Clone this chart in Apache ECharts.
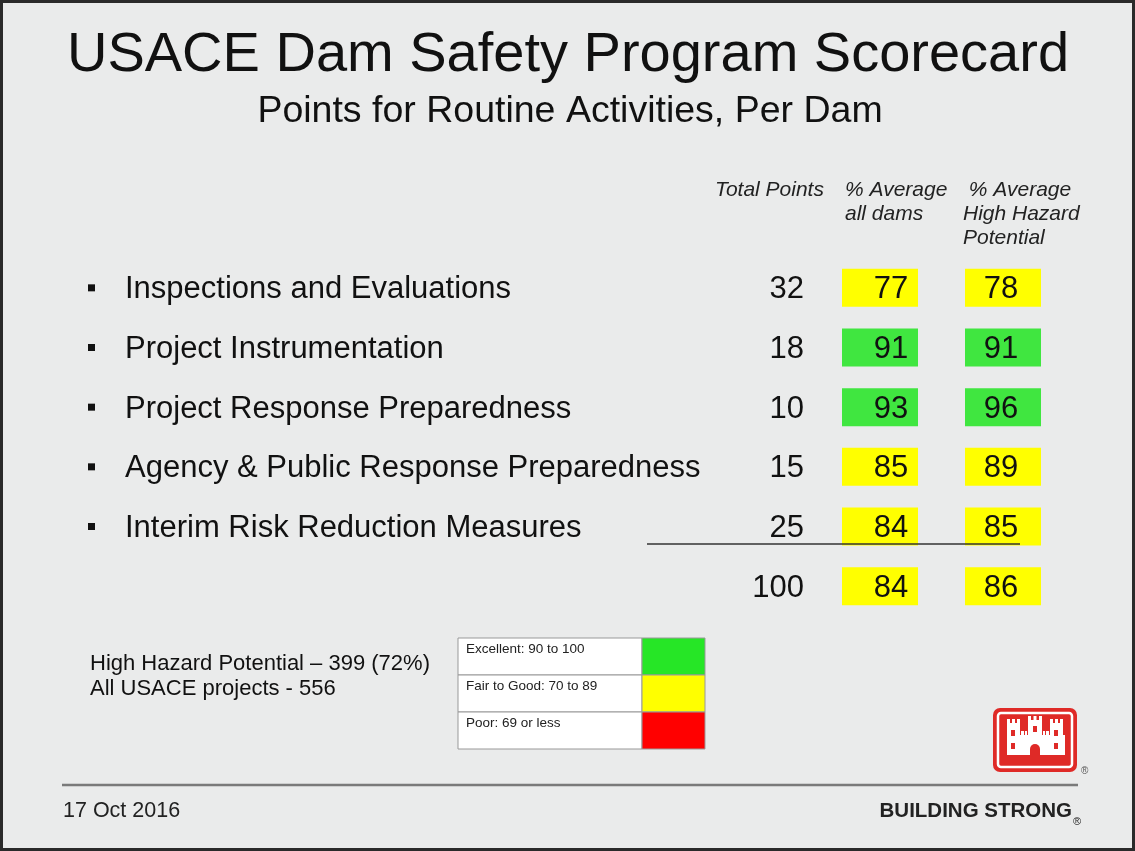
<!DOCTYPE html>
<html>
<head>
<meta charset="utf-8">
<title>USACE Dam Safety Program Scorecard</title>
<script src="https://cdn.jsdelivr.net/npm/echarts@6/dist/echarts.min.js"></script>
<style>
    html, body { margin: 0; padding: 0; background: #eaebeb; }
    #main { width: 1135px; height: 851px; }
</style>
</head>
<body>
<div id="main"></div>
<script>
"use strict";
// ----- data -----
var activities = [
    'Inspections and Evaluations',
    'Project Instrumentation',
    'Project Response Preparedness',
    'Agency & Public Response Preparedness',
    'Interim Risk Reduction Measures',
    'Total'
];
var totalPoints = [32, 18, 10, 15, 25, 100];
var avgAllDams = [77, 91, 93, 85, 84, 84];
var avgHighHazard = [78, 91, 96, 89, 85, 86];
var columnHeaders = ['Total Points', '% Average\nall dams', ' % Average\nHigh Hazard\nPotential'];
var ratingLevels = [
    { label: 'Excellent: 90 to 100', min: 90, max: 100 },
    { label: 'Fair to Good: 70 to 89', min: 70, max: 89.99 },
    { label: 'Poor: 69 or less', min: 0, max: 69.99 }
];
var notes = ['High Hazard Potential \u2013 399 (72%)', 'All USACE projects - 556'];
var titleText = 'USACE Dam Safety Program Scorecard';
var subtitleText = 'Points for Routine Activities, Per Dam';
var dateText = '17 Oct 2016';

// ----- style -----
var FONT = '"Liberation Sans", Arial, sans-serif';
var levelColors = ['#26e626', '#ffff00', '#ff0000'];
var boxColors = ['#40e640', '#ffff00', '#ff0000'];
var TEXT = '#111';
var gridTop = 258, gridHeight = 358;
var columns = [
    { left: 730, width: 76 },
    { left: 842, width: 76 },
    { left: 965, width: 76 }
];

var chart = echarts.init(document.getElementById('main'), null, { renderer: 'canvas' });

var grids = columns.map(function (c) {
    return { left: c.left, width: c.width, top: gridTop, height: gridHeight };
});
var xAxes = columns.map(function (c, i) {
    return { type: 'category', gridIndex: i, data: [columnHeaders[i]], show: false };
});
var yAxes = columns.map(function (c, i) {
    return {
        type: 'category', gridIndex: i, data: activities, inverse: true,
        axisLine: { show: false }, axisTick: { show: false }, splitLine: { show: false },
        axisLabel: i === 0 ? {
            show: true, align: 'left', margin: 642,
            formatter: function (v) {
                return v === 'Total' ? '' : '{b|}{g|}{t|' + v + '}';
            },
            rich: {
                b: { width: 7, height: 7, backgroundColor: TEXT, verticalAlign: 'middle' },
                g: { width: 30 },
                t: { fontSize: 31, fontFamily: FONT, color: TEXT, padding: [4, 0, 0, 0] }
            }
        } : { show: false }
    };
});

var toData = function (arr) {
    return arr.map(function (v, i) { return [0, i, v]; });
};
var numberLabel = function (extra) {
    return Object.assign({
        show: true, fontSize: 31, fontFamily: FONT, color: TEXT,
        formatter: function (p) { return p.value[2]; }
    }, extra);
};

var option = {
    backgroundColor: '#eaebeb',
    animation: false,
    grid: grids,
    xAxis: xAxes,
    yAxis: yAxes,
    visualMap: {
        type: 'piecewise', show: false, seriesIndex: [1, 2], dimension: 2,
        pieces: ratingLevels.map(function (l, i) {
            return { min: l.min, max: l.max, color: boxColors[i] };
        })
    },
    series: [
        {
            type: 'scatter', xAxisIndex: 0, yAxisIndex: 0, symbol: 'rect', symbolSize: [76, 38],
            itemStyle: { color: 'rgba(0,0,0,0)', opacity: 1 },
            label: numberLabel({ position: 'insideRight', distance: 2, offset: [0, 2] }),
            data: toData(totalPoints)
        },
        {
            type: 'scatter', xAxisIndex: 1, yAxisIndex: 1, symbol: 'rect', symbolSize: [76, 38],
            itemStyle: { opacity: 1 },
            label: numberLabel({ position: 'inside', offset: [11, 2] }),
            data: toData(avgAllDams)
        },
        {
            type: 'scatter', xAxisIndex: 2, yAxisIndex: 2, symbol: 'rect', symbolSize: [76, 38],
            itemStyle: { opacity: 1 },
            label: numberLabel({ position: 'inside', offset: [-2, 2] }),
            data: toData(avgHighHazard)
        }
    ],
    graphic: []
};

// ----- slide furniture -----
var g = option.graphic;
g.push({ type: 'text', x: 568, y: 56, style: { text: titleText, font: '56px ' + FONT, fill: TEXT, align: 'center', verticalAlign: 'middle' } });
g.push({ type: 'text', x: 570, y: 112, style: { text: subtitleText, font: '37.5px ' + FONT, fill: TEXT, align: 'center', verticalAlign: 'middle' } });

var headerX = [715, 845, 963];
columnHeaders.forEach(function (h, i) {
    g.push({ type: 'text', x: headerX[i], y: 178, style: { text: h, font: 'italic 21px ' + FONT, fill: '#222', lineHeight: 24 } });
});

// rule above the totals row
g.push({ type: 'line', z: 10, shape: { x1: 647, y1: 544, x2: 1020, y2: 544 }, style: { stroke: '#333', lineWidth: 1.5 } });

// notes
notes.forEach(function (n, i) {
    g.push({ type: 'text', x: 90, y: 664 + i * 25, style: { text: n, font: '22px ' + FONT, fill: TEXT, verticalAlign: 'middle' } });
});

// rating key table
var keyX = 458, keyY = 638, keyW = 247, rowH = 37, swatchW = 63;
ratingLevels.forEach(function (l, i) {
    var y = keyY + i * rowH;
    g.push({ type: 'rect', shape: { x: keyX, y: y, width: keyW - swatchW, height: rowH }, style: { fill: '#fff', stroke: '#999', lineWidth: 1 } });
    g.push({ type: 'rect', shape: { x: keyX + keyW - swatchW, y: y, width: swatchW, height: rowH }, style: { fill: levelColors[i], stroke: '#999', lineWidth: 1 } });
    g.push({ type: 'text', x: keyX + 8, y: y + 4, style: { text: l.label, font: '13.5px ' + FONT, fill: '#222' } });
});

// castle logo
var lx = 993, ly = 708;
var castle = [
    [14, 27, 58, 20],   // wall
    [14, 15, 13, 32],   // left tower
    [57, 15, 13, 32],   // right tower
    [35, 12, 14, 20],   // center tower
    [14, 11, 3, 5], [19, 11, 3, 5], [24, 11, 3, 5],
    [57, 11, 3, 5], [62, 11, 3, 5], [67, 11, 3, 5],
    [35, 8, 3, 5], [40.5, 8, 3, 5], [46, 8, 3, 5],
    [28, 23, 3, 5], [32, 23, 2, 5], [50, 23, 2, 5], [53, 23, 3, 5]
];
var logoChildren = [
    { type: 'rect', shape: { x: 0, y: 0, width: 84, height: 64, r: 7 }, style: { fill: '#df2a27' } },
    { type: 'rect', shape: { x: 5, y: 5, width: 74, height: 54, r: 3 }, style: { fill: 'none', stroke: '#fff', lineWidth: 2.5 } }
];
castle.forEach(function (c) {
    logoChildren.push({ type: 'rect', shape: { x: c[0], y: c[1], width: c[2], height: c[3] }, style: { fill: '#fff' } });
});
[[18, 22], [61, 22], [18, 35], [61, 35], [40, 18]].forEach(function (w) {
    logoChildren.push({ type: 'rect', shape: { x: w[0], y: w[1], width: 4, height: 6 }, style: { fill: '#df2a27' } });
});
logoChildren.push({ type: 'rect', shape: { x: 37, y: 36, width: 10, height: 11, r: [5, 5, 0, 0] }, style: { fill: '#df2a27' } });
g.push({ type: 'group', x: lx, y: ly, children: logoChildren });
g.push({ type: 'text', x: 1081, y: 766, style: { text: '\u00ae', font: '10px ' + FONT, fill: '#555' } });

// footer
g.push({ type: 'line', shape: { x1: 62, y1: 785, x2: 1078, y2: 785 }, style: { stroke: '#7a7a7a', lineWidth: 2.5 } });
g.push({ type: 'text', x: 63, y: 811, style: { text: dateText, font: '21.5px ' + FONT, fill: '#222', verticalAlign: 'middle' } });
g.push({ type: 'text', x: 1072, y: 811, style: { text: 'BUILDING STRONG', font: 'bold 20.5px ' + FONT, fill: '#222', align: 'right', verticalAlign: 'middle' } });
g.push({ type: 'text', x: 1073, y: 816, style: { text: '\u00ae', font: '11px ' + FONT, fill: '#222' } });

// slide frame
g.push({ type: 'rect', z: 20, shape: { x: 1.5, y: 1.5, width: 1132, height: 848 }, style: { fill: 'none', stroke: '#2a2a2a', lineWidth: 3 } });

chart.setOption(option);
</script>
</body>
</html>
